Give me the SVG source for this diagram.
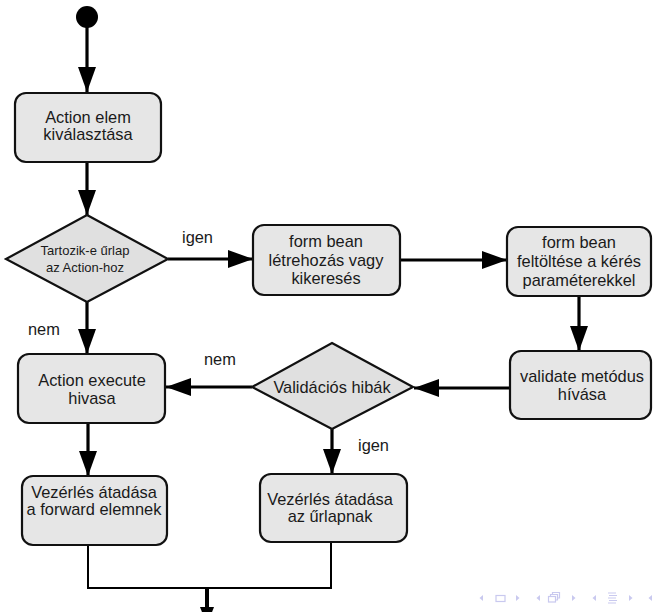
<svg xmlns="http://www.w3.org/2000/svg" width="653" height="612" viewBox="0 0 653 612">
<style>
.node rect{fill:#e6e6e6;stroke:#111;stroke-width:2.2}
.node polygon{fill:#e0e0e0;stroke:#111;stroke-width:2.2}
text{font-family:"Liberation Sans",Arial,sans-serif;font-size:16.4px;fill:#1a1a1a;text-anchor:middle}
.small{font-size:13px}
.lbl{text-anchor:start}
.conn{stroke:#000;stroke-width:3.2;fill:none}
.thin{stroke:#000;stroke-width:2;fill:none}
.nav{fill:#c9c9ef}
.navs{fill:none;stroke:#c9c9ef;stroke-width:1.2}
</style>
<defs>
<marker id="arr" markerUnits="userSpaceOnUse" markerWidth="26" markerHeight="20" refX="25" refY="9" orient="auto">
<path d="M0,0 L25,9 L0,18 z" fill="#000"/>
</marker>
</defs>
<g id="start"><circle cx="87" cy="17" r="11" fill="#000"/></g>
<g id="connectors">
<line class="conn" x1="87" y1="27" x2="87" y2="92" marker-end="url(#arr)"/>
<line class="conn" x1="87" y1="162" x2="87" y2="215" marker-end="url(#arr)"/>
<line class="conn" x1="168" y1="259" x2="253" y2="259" marker-end="url(#arr)"/>
<line class="conn" x1="87" y1="302" x2="87" y2="354" marker-end="url(#arr)"/>
<line class="conn" x1="400" y1="260" x2="507" y2="260" marker-end="url(#arr)"/>
<line class="conn" x1="579" y1="296" x2="579" y2="351" marker-end="url(#arr)"/>
<line class="conn" x1="510" y1="388" x2="414" y2="388" marker-end="url(#arr)"/>
<line class="conn" x1="252" y1="387" x2="166" y2="387" marker-end="url(#arr)"/>
<line class="conn" x1="332" y1="429" x2="332" y2="474" marker-end="url(#arr)"/>
<line class="conn" x1="88" y1="423" x2="88" y2="476" marker-end="url(#arr)"/>
<polyline class="thin" points="88,545 88,588 331,588 331,542"/>
<line x1="207" y1="588" x2="207" y2="608" stroke="#000" stroke-width="4"/>
<polygon points="200,607 214,607 207,625" fill="#000"/>
<text class="lbl" x="182" y="243">igen</text>
<text class="lbl" x="28" y="335">nem</text>
<text class="lbl" x="204" y="365">nem</text>
<text class="lbl" x="358" y="451">igen</text>
</g>
<g id="n1" class="node">
<rect x="15" y="93" width="146" height="69" rx="11"/>
<text x="88" y="123">Action elem</text>
<text x="88" y="140">kiválasztása</text>
</g>
<g id="d1" class="node">
<polygon points="87,215 168,259 87,302 6,259"/>
<text class="small" x="85" y="255">Tartozik-e űrlap</text>
<text class="small" x="85" y="272">az Action-hoz</text>
</g>
<g id="n2" class="node">
<rect x="253" y="225" width="147" height="70" rx="11"/>
<text x="326" y="247">form bean</text>
<text x="326" y="266">létrehozás vagy</text>
<text x="326" y="284">kikeresés</text>
</g>
<g id="n3" class="node">
<rect x="507" y="227" width="144" height="69" rx="11"/>
<text x="579" y="248">form bean</text>
<text x="579" y="267">feltöltése a kérés</text>
<text x="579" y="286">paraméterekkel</text>
</g>
<g id="n4" class="node">
<rect x="510" y="351" width="141" height="68" rx="11"/>
<text x="582" y="382">validate metódus</text>
<text x="582" y="400">hívása</text>
</g>
<g id="d2" class="node">
<polygon points="332,343 413,387 332,429 252,387"/>
<text x="332" y="393">Validációs hibák</text>
</g>
<g id="n5" class="node">
<rect x="18" y="354" width="147" height="69" rx="11"/>
<text x="92" y="386">Action execute</text>
<text x="92" y="404">hivasa</text>
</g>
<g id="n6" class="node">
<rect x="22" y="476" width="145" height="69" rx="11"/>
<text x="94" y="498">Vezérlés átadása</text>
<text x="94" y="515">a forward elemnek</text>
</g>
<g id="n7" class="node">
<rect x="260" y="474" width="147" height="68" rx="11"/>
<text x="330" y="505">Vezérlés átadása</text>
<text x="330" y="522">az űrlapnak</text>
</g>
<g id="nav">
<polygon class="nav" points="483,595 483,601 479.5,598"/>
<rect class="navs" x="496" y="595.5" width="9" height="6"/>
<polygon class="nav" points="516,595 516,601 519.5,598"/>
<polygon class="nav" points="540,595 540,601 536.5,598"/>
<rect class="navs" x="548.5" y="596.5" width="7" height="5.5"/>
<path class="navs" d="M550.5,596.5 V594.5 H557.5 V600 H555.5 M552.5,594.5 V592.5 H559.5 V598 H557.5"/>
<polygon class="nav" points="572,595 572,601 575.5,598"/>
<polygon class="nav" points="596,595 596,601 592.5,598"/>
<path class="navs" d="M608,593 H616 M609,595.5 H617 M608,598 H616 M609,600.5 H617 M608,603 H616"/>
<polygon class="nav" points="629,595 629,601 632.5,598"/>
<polygon class="nav" points="652,595 652,601 648.5,598"/>
</g>
</svg>
